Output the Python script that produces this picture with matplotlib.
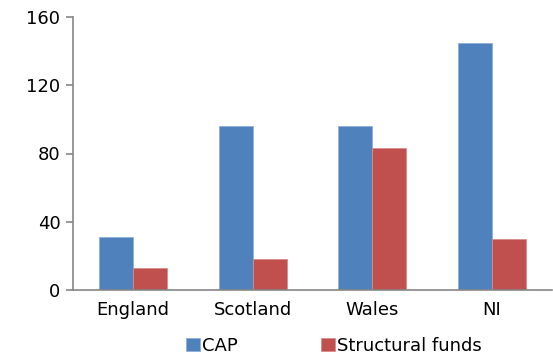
import numpy as np
import matplotlib
matplotlib.use("Agg")
import matplotlib.pyplot as plt

# data
regions = ["England", "Scotland", "Wales", "NI"]
cap = [31, 96, 96, 145]
structural = [13, 18, 83, 30]
yticks = [0, 40, 80, 120, 160]

blue = "#4F81BD"
red = "#C0504D"
grey = "#868686"

plt.rcParams["font.family"] = ["DejaVu Sans"]

fig = plt.figure(figsize=(5.53, 3.58), dpi=100)
ax = fig.add_axes([73 / 553, 68 / 358, 479 / 553, 273 / 358])

x = np.arange(len(regions))
w = 0.284
ax.bar(x - w / 2, cap, w, color=blue, edgecolor="#8DAFD8", linewidth=0.6, label="CAP")
ax.bar(x + w / 2, structural, w, color=red, edgecolor="#D98C8A", linewidth=0.6, label="Structural funds")

ax.set_xlim(-0.5, len(regions) - 0.5)
ax.set_ylim(0, 160)
ax.set_yticks(yticks)
ax.set_xticks(x)
ax.set_xticklabels(regions)

for s in ["top", "right"]:
    ax.spines[s].set_visible(False)
for s in ["left", "bottom"]:
    ax.spines[s].set_color(grey)
    ax.spines[s].set_linewidth(1.2)

ax.tick_params(axis="y", length=5, color=grey, width=1.2, labelsize=13, pad=4)
ax.tick_params(axis="x", length=0, labelsize=13, pad=8)

ax.legend(loc="center", bbox_to_anchor=(334 / 553, 12 / 358), bbox_transform=fig.transFigure,
          ncol=2, frameon=False, fontsize=13, handlelength=0.75, handleheight=0.75,
          handletextpad=0.15, columnspacing=4.6, borderpad=0)

fig.savefig("out.png", dpi=100)
